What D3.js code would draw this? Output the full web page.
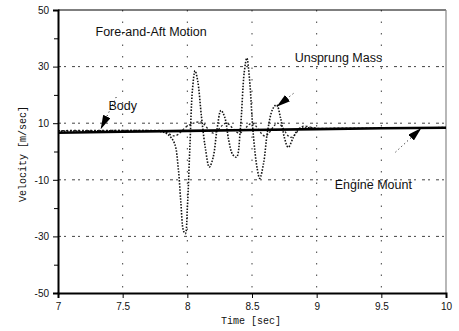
<!DOCTYPE html>
<html>
<head>
<meta charset="utf-8">
<script src="https://cdn.jsdelivr.net/npm/d3@7"></script>
<style>
	body { margin: 0; background: #fff; }
	text { fill: #111; }
</style>
</head>
<body>
<svg id="chart" width="459" height="331"></svg>
<script>
// data
let xTicks = [7, 7.5, 8, 8.5, 9, 9.5, 10];
let xTickLabels = ["7", "7.5", "8", "8.5", "9", "9.5", "10"];
let yTicks = [50, 30, 10, -10, -30, -50];
let yMinorTicks = [40, 20, 0, -20, -40];
let gridY = [30, 10, -10, -30];
let gridX = [7.5, 8, 8.5, 9, 9.5];

let bodyTime = [7, 7.5, 8, 8.5, 9, 9.5, 10];
let bodyVel = [6.6, 7.0, 7.3, 7.6, 7.9, 8.2, 8.4];

let unsprungTime = [7.0, 7.3, 7.6, 7.8, 7.85, 7.9, 7.93, 7.95, 7.97, 7.985, 8.0, 8.02, 8.04, 8.06, 8.08, 8.11, 8.14, 8.17, 8.2, 8.23, 8.26, 8.29, 8.32, 8.35, 8.38, 8.41, 8.44, 8.46, 8.48, 8.51, 8.54, 8.56, 8.59, 8.62, 8.66, 8.69, 8.72, 8.75, 8.78, 8.82, 8.86, 8.9, 9.0];
let unsprungVel = [7.2, 7.3, 7.4, 7, 6, 3, -6, -18, -28, -29, -20, 2, 22, 28.5, 25, 12, 1, -5.5, -2, 8, 14.5, 12, 4, -1, -2, 8, 28, 33, 26, 6, -6, -9.5, -4, 7, 15, 16.5, 12, 5, 1.5, 5, 8, 8.3, 8.3];

let engineTime = [7.0, 7.8, 7.9, 8.0, 8.1, 8.2, 8.3, 8.4, 8.5, 8.6, 8.7, 8.8, 8.9, 9.0, 10];
let engineVel = [7.4, 7.5, 5.5, 9, 10.5, 6.5, 10, 6.5, 10, 5.5, 10, 5, 9, 8.2, 8.5];

let labels = [
	{text: "Fore-and-Aft Motion", t: 7.29, v: 40.8},
	{text: "Body", t: 7.39, v: 14.8},
	{text: "Unsprung Mass", t: 8.83, v: 31.5},
	{text: "Engine Mount", t: 9.14, v: -13.3}
];
let arrows = [
	{t0: 7.45, v0: 19.2, t1: 7.33, v1: 7.9},
	{t0: 8.82, v0: 20.5, t1: 8.69, v1: 15.8},
	{t0: 9.61, v0: -0.2, t1: 9.81, v1: 8.3}
];

let margin = {left: 58, top: 10, right: 13, bottom: 38};
let width = 459, height = 331;

let svg = d3.select("#chart");

let x = d3.scaleLinear().domain([7, 10]).range([margin.left, width - margin.right]);
let y = d3.scaleLinear().domain([-50, 50]).range([height - margin.bottom, margin.top]);

// grid
svg.append("g").selectAll("line")
	.data(gridY)
	.join("line")
	.attr("x1", x(7)).attr("x2", x(10))
	.attr("y1", d => y(d)).attr("y2", d => y(d))
	.attr("stroke", "#444").attr("stroke-width", 1)
	.attr("stroke-dasharray", "3,3,2,6");

svg.append("g").selectAll("line")
	.data(gridX)
	.join("line")
	.attr("x1", d => x(d)).attr("x2", d => x(d))
	.attr("y1", y(50)).attr("y2", y(-50))
	.attr("stroke", "#444").attr("stroke-width", 1)
	.attr("stroke-dasharray", "1.5,10");

// frame
svg.append("line")
	.attr("x1", x(7)).attr("x2", x(10)).attr("y1", y(50)).attr("y2", y(50))
	.attr("stroke", "#000").attr("stroke-width", 1.2);
svg.append("line")
	.attr("x1", x(10)).attr("x2", x(10)).attr("y1", y(50)).attr("y2", y(-50))
	.attr("stroke", "#888").attr("stroke-width", 1.2);

// series
let line = d3.line().x(d => x(d[0])).y(d => y(d[1]));

svg.append("path")
	.datum(d3.zip(engineTime, engineVel))
	.attr("d", line.curve(d3.curveMonotoneX))
	.attr("fill", "none").attr("stroke", "#222").attr("stroke-width", 1.3)
	.attr("stroke-dasharray", "2,2");

svg.append("path")
	.datum(d3.zip(unsprungTime, unsprungVel))
	.attr("d", line.curve(d3.curveCatmullRom))
	.attr("fill", "none").attr("stroke", "#111").attr("stroke-width", 1.6)
	.attr("stroke-dasharray", "1.5,1.5");

svg.append("path")
	.datum(d3.zip(bodyTime, bodyVel))
	.attr("d", line.curve(d3.curveLinear))
	.attr("fill", "none").attr("stroke", "#000").attr("stroke-width", 2.6);

// axes
let axisL = svg.append("g")
	.attr("transform", "translate(" + x(7) + ",0)")
	.call(d3.axisLeft(y).tickValues(yTicks).tickSize(5).tickFormat(d => String(d)));
let axisL2 = svg.append("g")
	.attr("transform", "translate(" + x(7) + ",0)")
	.call(d3.axisLeft(y).tickValues(yMinorTicks).tickSize(4).tickFormat(""));
axisL2.select(".domain").remove();

let axisB = svg.append("g")
	.attr("transform", "translate(0," + y(-50) + ")")
	.call(d3.axisBottom(x).tickValues(xTicks).tickSize(5).tickFormat((d, i) => xTickLabels[i]));

[axisL, axisB].forEach(function(a){
	a.select(".domain").attr("stroke", "#000").attr("stroke-width", 2);
	a.selectAll("text").attr("font-family", "Liberation Sans, Arial, sans-serif").attr("font-size", 10).attr("fill", "#111");
});
axisL2.selectAll("line").attr("stroke", "#000");
axisL.selectAll("text").attr("dx", -1);
axisB.selectAll("text").attr("dy", "0.9em");

// axis titles
svg.append("text")
	.attr("x", 251).attr("y", 324)
	.attr("text-anchor", "middle")
	.attr("font-family", "Liberation Mono, Courier New, monospace")
	.attr("font-size", 10)
	.text("Time [sec]");

svg.append("text")
	.attr("transform", "translate(26,154) rotate(-90)")
	.attr("text-anchor", "middle")
	.attr("font-family", "Liberation Mono, Courier New, monospace")
	.attr("font-size", 10)
	.text("Velocity [m/sec]");

// annotations
svg.append("g").selectAll("text")
	.data(labels)
	.join("text")
	.attr("x", d => x(d.t)).attr("y", d => y(d.v))
	.attr("font-family", "Liberation Sans, Arial, sans-serif")
	.attr("font-size", 12.5)
	.attr("fill", "#222")
	.text(d => d.text);

svg.append("defs").append("marker")
	.attr("id", "head")
	.attr("viewBox", "0 0 14 8")
	.attr("refX", 14).attr("refY", 4)
	.attr("markerWidth", 14).attr("markerHeight", 8)
	.attr("markerUnits", "userSpaceOnUse")
	.attr("orient", "auto")
	.append("path")
	.attr("d", "M0,0 L14,4 L0,8 Z")
	.attr("fill", "#000");

svg.append("g").selectAll("line")
	.data(arrows)
	.join("line")
	.attr("x1", d => x(d.t0)).attr("y1", d => y(d.v0))
	.attr("x2", d => x(d.t1)).attr("y2", d => y(d.v1))
	.attr("stroke", "#000").attr("stroke-width", 1)
	.attr("stroke-dasharray", "1,3")
	.attr("marker-end", "url(#head)");
</script>
</body>
</html>
